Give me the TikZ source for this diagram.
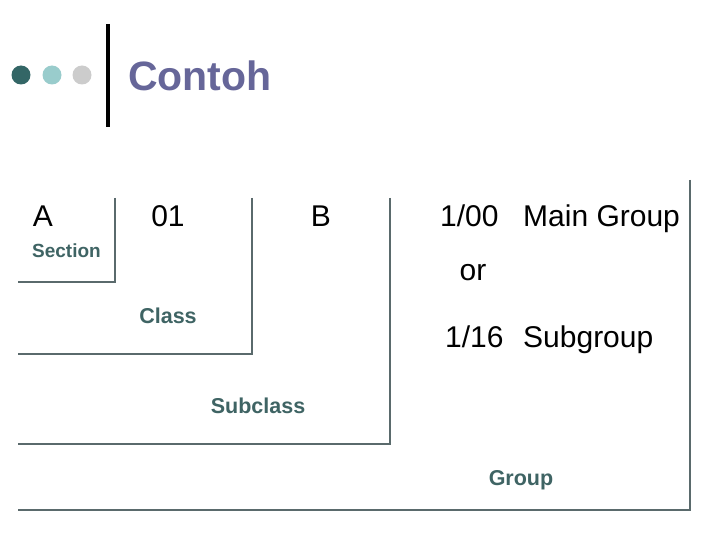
\documentclass[tikz,border=0pt]{standalone}
\usepackage{fontspec}
\setmainfont{Liberation Sans}
\definecolor{linec}{HTML}{5A6A6C}
\definecolor{labc}{HTML}{3F6464}
\definecolor{titlec}{HTML}{666699}
\definecolor{dota}{HTML}{336666}
\definecolor{dotb}{HTML}{99CCCC}
\definecolor{dotc}{HTML}{CCCCCC}
\begin{document}
\begin{tikzpicture}[x=1pt,y=-1pt,
  frame/.style={draw=linec,line width=1.2pt},
  big/.style={inner sep=0pt,anchor=base,font=\fontsize{30}{34}\selectfont},
  lab/.style={inner sep=0pt,anchor=base,text=labc,font=\bfseries\fontsize{21.5}{24}\selectfont}]
\useasboundingbox[fill=white] (0,0) rectangle (720,540);
% header
\fill[dota] (21,75) circle (9.5);
\fill[dotb] (52,75) circle (9.5);
\fill[dotc] (82,75) circle (9.5);
\draw[line width=4pt] (108,24) -- (108,127);
\node[anchor=west,inner sep=0pt,text=titlec,font=\bfseries\fontsize{41}{46}\selectfont] (title) at (128,76) {Contoh};
% frames
\coordinate (s1) at (115,198); \coordinate (s2) at (115,282); \coordinate (s3) at (18,282);
\coordinate (c1) at (252,198); \coordinate (c2) at (252,354); \coordinate (c3) at (18,354);
\coordinate (u1) at (390,198); \coordinate (u2) at (390,444); \coordinate (u3) at (18,444);
\coordinate (g1) at (690,180); \coordinate (g2) at (690,510); \coordinate (g3) at (18,510);
\draw[frame] (s1) -- (s2) -- (s3);
\draw[frame] (c1) -- (c2) -- (c3);
\draw[frame] (u1) -- (u2) -- (u3);
\draw[frame] (g1) -- (g2) -- (g3);
% texts
\node[big] (a) at (43,226) {A};
\node[big] (n01) at (168,226) {01};
\node[big] (b) at (321,226) {B};
\node[lab,font=\bfseries\fontsize{19}{22}\selectfont] (sec) at (66.5,257) {Section};
\node[lab] (cls) at (168,323) {Class};
\node[lab] (sub) at (258,413) {Subclass};
\node[lab] (grp) at (521,485) {Group};
\node[big,anchor=base west] (n100) at (440,226) {1/00};
\node[big,anchor=base west] (main) at (523,226) {Main Group};
\node[big] (or) at (473,280) {or};
\node[big,anchor=base west] (n116) at (445,347) {1/16};
\node[big,anchor=base west] (sg) at (523,347) {Subgroup};
\end{tikzpicture}
\end{document}
